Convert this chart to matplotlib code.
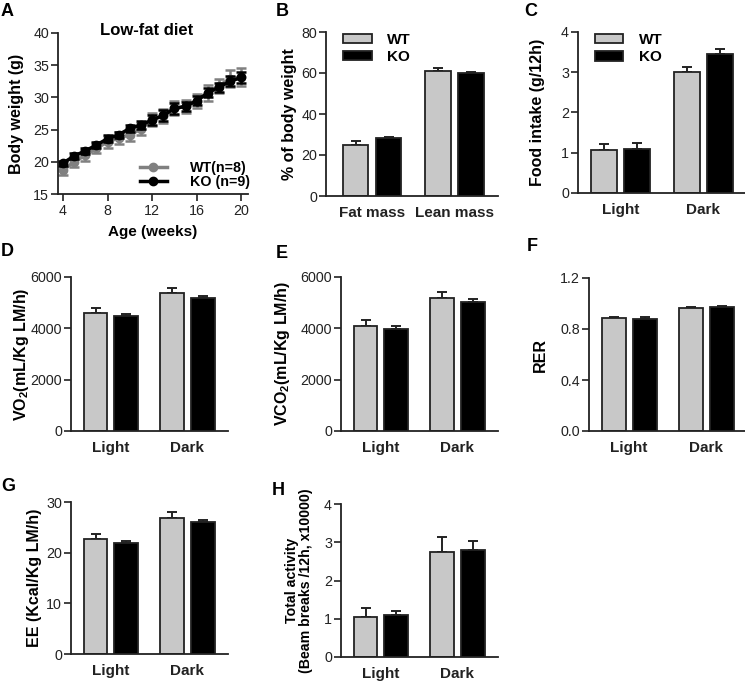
import matplotlib
matplotlib.use("Agg")
import matplotlib.pyplot as plt
from matplotlib.lines import Line2D
import numpy as np

plt.rcParams['font.family'] = ['Liberation Sans', 'DejaVu Sans']
plt.rcParams['mathtext.fontset'] = 'custom'
plt.rcParams['mathtext.bf'] = 'Liberation Sans:bold'
plt.rcParams['mathtext.rm'] = 'Liberation Sans:bold'
plt.rcParams['mathtext.default'] = 'bf'

# ---------------- data ----------------
weeks = [4, 5, 6, 7, 8, 9, 10, 11, 12, 13, 14, 15, 16, 17, 18, 19, 20]
wt_bw = [18.7, 20.0, 21.0, 22.1, 23.1, 23.7, 24.2, 25.1, 26.6, 27.1, 28.3, 28.6, 29.5, 30.7, 31.8, 32.9, 33.2]
wt_bw_err = [0.8, 0.8, 0.8, 0.8, 0.9, 0.9, 1.0, 1.0, 1.0, 1.1, 1.1, 1.0, 1.1, 1.2, 1.1, 1.3, 1.4]
ko_bw = [19.8, 20.9, 21.7, 22.6, 23.6, 24.2, 25.2, 25.7, 26.5, 27.2, 28.3, 28.6, 29.5, 30.7, 31.6, 32.5, 33.1]
ko_bw_err = [0.4, 0.5, 0.5, 0.5, 0.5, 0.5, 0.5, 0.6, 0.8, 0.8, 0.8, 0.7, 0.7, 0.7, 0.7, 0.8, 0.8]

comp_cats = ['Fat mass', 'Lean mass']
comp_wt = [25.0, 61.0]
comp_wt_err = [2.0, 1.6]
comp_ko = [28.2, 59.9]
comp_ko_err = [0.8, 0.5]

phases = ['Light', 'Dark']
food_wt = [1.08, 3.00]
food_wt_err = [0.14, 0.13]
food_ko = [1.09, 3.45]
food_ko_err = [0.14, 0.12]

vo2_wt = [4600, 5390]
vo2_wt_err = [210, 195]
vo2_ko = [4470, 5180]
vo2_ko_err = [90, 90]

vco2_wt = [4080, 5180]
vco2_wt_err = [235, 235]
vco2_ko = [3965, 5030]
vco2_ko_err = [117, 117]

rer_wt = [0.884, 0.965]
rer_wt_err = [0.013, 0.007]
rer_ko = [0.881, 0.973]
rer_ko_err = [0.013, 0.005]

ee_wt = [22.6, 26.9]
ee_wt_err = [1.1, 1.1]
ee_ko = [21.9, 26.0]
ee_ko_err = [0.5, 0.5]

act_wt = [1.04, 2.74]
act_wt_err = [0.24, 0.41]
act_ko = [1.09, 2.81]
act_ko_err = [0.10, 0.21]

# ---------------- styling ----------------
W, H = 745, 683
fig = plt.figure(figsize=(W / 100, H / 100), dpi=100)

WT_FILL = '#c8c8c8'
EDGE = '#222222'
TICK_FS = 10.3
LAB_FS = 11.5
CAT_FS = 11


def make_ax(left, right, top, bottom):
    ax = fig.add_axes([left / W, 1 - bottom / H, (right - left) / W, (bottom - top) / H])
    for s in ['top', 'right']:
        ax.spines[s].set_visible(False)
    for s in ['left', 'bottom']:
        ax.spines[s].set_linewidth(1.3)
        ax.spines[s].set_color('#222222')
    ax.tick_params(axis='y', direction='out', length=5, width=1.2, labelsize=TICK_FS, pad=1.5, colors='#222222')
    ax.tick_params(axis='x', direction='out', length=5, width=1.2, labelsize=TICK_FS, pad=2, colors='#222222')
    return ax


def bar_panel(ax, cats, wt, wte, ko, koe, ylim, yticks, ylabel, labx,
              xlim=(-0.52, 1.53), ticklabels=None, labfs=LAB_FS):
    x = np.arange(len(cats))
    w = 0.31
    off = 0.2
    ax.bar(x - off, wt, w, color=WT_FILL, edgecolor=EDGE, linewidth=1.3, zorder=2, label='WT')
    ax.bar(x + off, ko, w, color='black', edgecolor=EDGE, linewidth=1.3, zorder=2, label='KO')
    ax.errorbar(x - off, wt, yerr=[np.zeros(len(wt)), wte], fmt='none', ecolor=EDGE,
                elinewidth=1.4, capsize=3.5, capthick=1.4, zorder=1)
    ax.errorbar(x + off, ko, yerr=[np.zeros(len(ko)), koe], fmt='none', ecolor=EDGE,
                elinewidth=1.4, capsize=3.5, capthick=1.4, zorder=1)
    ax.set_xlim(*xlim)
    ax.set_ylim(*ylim)
    ax.set_yticks(yticks)
    if ticklabels is not None:
        ax.set_yticklabels(ticklabels)
    ax.set_xticks(x)
    ax.set_xticklabels(cats, fontweight='bold', fontsize=CAT_FS)
    ax.tick_params(axis='x', length=0, pad=7)
    ax.set_ylabel(ylabel, fontweight='bold', fontsize=labfs, linespacing=1.0)
    ax.yaxis.set_label_coords(labx, 0.5)
    return ax


def bar_legend(ax):
    leg = ax.legend(loc='upper left', frameon=False, fontsize=11, handlelength=1.85, handleheight=0.55,
                    borderaxespad=0.0, handletextpad=1.0, labelspacing=0.2, bbox_to_anchor=(0.065, 1.03))
    for t in leg.get_texts():
        t.set_fontweight('bold')


def letter(x, y, s):
    fig.text(x / W, 1 - y / H, s, fontsize=13, fontweight='bold', ha='left', va='top')


# ---------------- Panel A ----------------
axA = make_ax(58, 248, 33, 194)
axA.errorbar(weeks, wt_bw, yerr=wt_bw_err, color='#808080', ecolor='#808080', marker='o',
             markersize=6, linewidth=2.5, elinewidth=1.8, capsize=3.5, capthick=1.8, zorder=2)
axA.errorbar(weeks, ko_bw, yerr=ko_bw_err, color='black', ecolor='black', marker='o',
             markersize=6, linewidth=2.5, elinewidth=1.8, capsize=3.5, capthick=1.8, zorder=3)
axA.set_xlim(3.55, 20.6)
axA.set_ylim(15, 40)
axA.set_xticks([4, 8, 12, 16, 20])
axA.set_yticks([15, 20, 25, 30, 35, 40])
axA.set_xlabel('Age (weeks)', fontweight='bold', fontsize=11, labelpad=5)
axA.set_ylabel('Body weight (g)', fontweight='bold', fontsize=LAB_FS)
axA.yaxis.set_label_coords(-0.179, 0.5)
axA.text(0.468, 1.015, 'Low-fat diet', transform=axA.transAxes, ha='center', va='center',
         fontweight='bold', fontsize=12)
handlesA = [Line2D([], [], color='#808080', marker='o', markersize=6, linewidth=2.5),
            Line2D([], [], color='black', marker='o', markersize=6, linewidth=2.5)]
legA = axA.legend(handlesA, ['WT(n=8)', 'KO (n=9)'], loc='lower right', frameon=False, fontsize=10.3,
                  handlelength=1.9, borderaxespad=0.0, handletextpad=1.6, labelspacing=0.0,
                  bbox_to_anchor=(1.04, -0.005))
for t in legA.get_texts():
    t.set_fontweight('bold')

# ---------------- Panel B ----------------
axB = make_ax(326, 498, 32, 196)
bar_panel(axB, comp_cats, comp_wt, comp_wt_err, comp_ko, comp_ko_err,
          (0, 80), [0, 20, 40, 60, 80], '% of body weight', -0.169, xlim=(-0.56, 1.53))
bar_legend(axB)

# ---------------- Panel C ----------------
axC = make_ax(578, 745, 32, 193)
bar_panel(axC, phases, food_wt, food_wt_err, food_ko, food_ko_err,
          (0, 4), [0, 1, 2, 3, 4], 'Food intake (g/12h)', -0.198, xlim=(-0.51, 1.5))
bar_legend(axC)

# ---------------- Panel D ----------------
axD = make_ax(71, 228, 277, 431)
bar_panel(axD, phases, vo2_wt, vo2_wt_err, vo2_ko, vo2_ko_err,
          (0, 6000), [0, 2000, 4000, 6000], r'VO$_2$(mL/Kg LM/h)', -0.255)

# ---------------- Panel E ----------------
axE = make_ax(341, 498, 277, 431)
bar_panel(axE, phases, vco2_wt, vco2_wt_err, vco2_ko, vco2_ko_err,
          (0, 6000), [0, 2000, 4000, 6000], r'VCO$_2$(mL/Kg LM/h)', -0.312)

# ---------------- Panel F ----------------
axF = make_ax(589, 745, 278, 431)
bar_panel(axF, phases, rer_wt, rer_wt_err, rer_ko, rer_ko_err,
          (0, 1.2), [0.0, 0.4, 0.8, 1.2], 'RER', -0.263, xlim=(-0.52, 1.5),
          ticklabels=['0.0', '0.4', '0.8', '1.2'])

# ---------------- Panel G ----------------
axG = make_ax(71, 228, 502, 654)
bar_panel(axG, phases, ee_wt, ee_wt_err, ee_ko, ee_ko_err,
          (0, 30), [0, 10, 20, 30], 'EE (Kcal/Kg LM/h)', -0.185)

# ---------------- Panel H ----------------
axH = make_ax(341, 498, 504, 657)
bar_panel(axH, phases, act_wt, act_wt_err, act_ko, act_ko_err,
          (0, 4), [0, 1, 2, 3, 4], 'Total activity\n(Beam breaks /12h, x10000)', -0.18, labfs=10.2)

# ---------------- panel letters ----------------
letter(1, 3, 'A')
letter(276, 3, 'B')
letter(524, 3, 'C')
letter(1, 243, 'D')
letter(276, 245, 'E')
letter(527, 238, 'F')
letter(1, 478, 'G')
letter(272, 482, 'H')

fig.savefig('out.png', dpi=100)
